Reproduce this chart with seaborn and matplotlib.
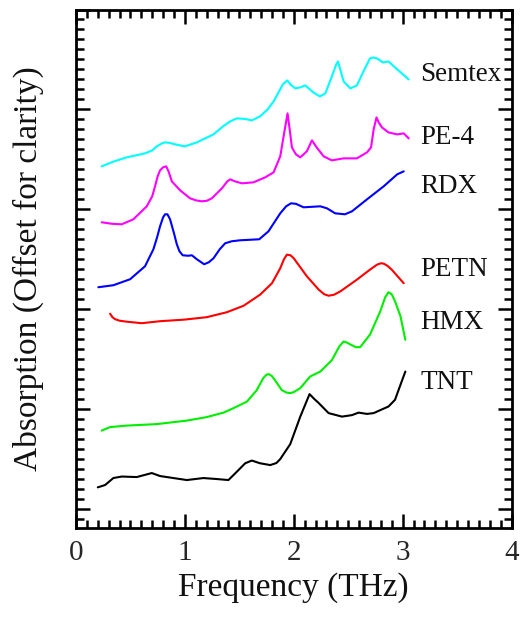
import matplotlib
matplotlib.use("Agg")
import matplotlib.pyplot as plt
from matplotlib.ticker import MultipleLocator, NullFormatter
import numpy as np
import pandas as pd
import seaborn as sns

# THz absorption spectra of explosives, each offset vertically
semtex_x = [0.236, 0.35, 0.466, 0.634, 0.70, 0.742, 0.79, 0.818, 0.86, 0.91, 1.0, 1.11, 1.263, 1.35,
            1.416, 1.478, 1.55, 1.615, 1.69, 1.76, 1.815, 1.87, 1.90, 1.94, 1.97, 2.014, 2.06,
            2.106, 2.18, 2.24, 2.29, 2.35, 2.39, 2.406, 2.43, 2.458, 2.52, 2.58, 2.64, 2.70,
            2.73, 2.765, 2.82, 2.87, 2.93, 3.056]
semtex_y = [3.43, 3.48, 3.52, 3.56, 3.59, 3.63, 3.66, 3.67, 3.665, 3.65, 3.63, 3.67, 3.75, 3.83,
            3.88, 3.91, 3.905, 3.89, 3.93, 4.00, 4.08, 4.19, 4.25, 4.29, 4.25, 4.21, 4.22,
            4.24, 4.17, 4.13, 4.16, 4.33, 4.45, 4.48, 4.39, 4.28, 4.21, 4.24, 4.38, 4.51,
            4.52, 4.51, 4.47, 4.48, 4.42, 4.30]

pe4_x = [0.236, 0.33, 0.42, 0.527, 0.65, 0.70, 0.726, 0.75, 0.772, 0.80, 0.828, 0.85, 0.88, 0.956,
         1.048, 1.10, 1.156, 1.20, 1.248, 1.34, 1.39, 1.416, 1.46, 1.524, 1.63, 1.738, 1.815,
         1.876, 1.913, 1.943, 1.965, 1.983, 2.02, 2.06, 2.12, 2.167, 2.21, 2.275, 2.35, 2.458,
         2.58, 2.673, 2.71, 2.734, 2.76, 2.78, 2.81, 2.87, 2.95, 3.01, 3.056]
pe4_y = [2.87, 2.855, 2.85, 2.90, 3.03, 3.13, 3.23, 3.33, 3.39, 3.42, 3.43, 3.38, 3.28, 3.19,
         3.11, 3.09, 3.08, 3.085, 3.11, 3.21, 3.28, 3.30, 3.28, 3.26, 3.27, 3.32, 3.37,
         3.53, 3.77, 3.96, 3.78, 3.62, 3.55, 3.52, 3.58, 3.69, 3.62, 3.53, 3.49, 3.51,
         3.51, 3.57, 3.62, 3.80, 3.92, 3.87, 3.82, 3.77, 3.75, 3.76, 3.71]

rdx_x = [0.205, 0.343, 0.497, 0.634, 0.711, 0.745, 0.772, 0.80, 0.818, 0.84, 0.864, 0.90, 0.926, 0.95,
         0.98, 1.03, 1.064, 1.11, 1.177, 1.22, 1.263, 1.32, 1.37, 1.43, 1.508, 1.683, 1.768, 1.876,
         1.93, 1.975, 2.02, 2.09, 2.244, 2.305, 2.38, 2.47, 2.535, 2.673, 2.826, 2.95, 3.01]
rdx_y = [2.22, 2.24, 2.30, 2.43, 2.60, 2.72, 2.83, 2.92, 2.95, 2.95, 2.90, 2.76, 2.65, 2.58,
         2.54, 2.535, 2.54, 2.50, 2.45, 2.47, 2.51, 2.60, 2.66, 2.68, 2.69, 2.70, 2.78, 2.96,
         3.03, 3.06, 3.055, 3.02, 3.03, 3.01, 2.96, 2.95, 2.98, 3.10, 3.23, 3.35, 3.38]

petn_x = [0.313, 0.335, 0.359, 0.40, 0.466, 0.604, 0.772, 0.987, 1.20, 1.386, 1.54, 1.69, 1.80,
          1.876, 1.91, 1.937, 1.97, 2.0, 2.06, 2.12, 2.23, 2.28, 2.32, 2.37, 2.43, 2.58, 2.70,
          2.765, 2.80, 2.826, 2.86, 2.90, 3.01]
petn_y = [1.955, 1.92, 1.90, 1.885, 1.875, 1.86, 1.88, 1.895, 1.92, 1.97, 2.035, 2.145, 2.26,
          2.41, 2.50, 2.546, 2.54, 2.51, 2.42, 2.33, 2.195, 2.15, 2.135, 2.145, 2.18, 2.296, 2.396,
          2.446, 2.46, 2.456, 2.435, 2.396, 2.26]

hmx_x = [0.236, 0.313, 0.466, 0.742, 1.018, 1.20, 1.355, 1.447, 1.57, 1.66, 1.72, 1.75, 1.773, 1.80,
         1.83, 1.89, 1.935, 1.968, 2.00, 2.06, 2.15, 2.244, 2.35, 2.42, 2.458, 2.49, 2.526, 2.57,
         2.61, 2.70, 2.795, 2.84, 2.87, 2.90, 2.93, 2.98, 3.025]
hmx_y = [0.785, 0.82, 0.835, 0.85, 0.885, 0.92, 0.965, 1.01, 1.075, 1.19, 1.31, 1.345, 1.35, 1.33,
         1.286, 1.19, 1.165, 1.16, 1.17, 1.21, 1.326, 1.376, 1.49, 1.63, 1.677, 1.665, 1.644, 1.62,
         1.62, 1.745, 1.98, 2.12, 2.17, 2.15, 2.08, 1.93, 1.694]

tnt_x = [0.2, 0.267, 0.343, 0.42, 0.558, 0.696, 0.772, 0.895, 1.018, 1.17, 1.294, 1.40, 1.478,
         1.554, 1.615, 1.69, 1.784, 1.84, 1.876, 1.968, 2.06, 2.145, 2.19, 2.23, 2.32, 2.443,
         2.535, 2.596, 2.673, 2.734, 2.795, 2.87, 2.93, 2.98, 3.025]
tnt_y = [0.217, 0.24, 0.31, 0.325, 0.32, 0.36, 0.33, 0.31, 0.29, 0.31, 0.30, 0.29, 0.374,
         0.458, 0.485, 0.458, 0.44, 0.46, 0.50, 0.65, 0.925, 1.15, 1.10, 1.06, 0.96, 0.925,
         0.94, 0.965, 0.952, 0.96, 0.99, 1.026, 1.093, 1.243, 1.376]

names = ["Semtex", "PE-4", "RDX", "PETN", "HMX", "TNT"]
colors = ["#00FFFF", "#FF00FF", "#0000FF", "#FF0000", "#00EE00", "#000000"]
label_y = [4.35, 3.72, 3.23, 2.40, 1.865, 1.27]

series = [(semtex_x, semtex_y), (pe4_x, pe4_y), (rdx_x, rdx_y),
          (petn_x, petn_y), (hmx_x, hmx_y), (tnt_x, tnt_y)]
df = pd.concat(
    [pd.DataFrame({"freq": xs, "absorb": ys, "sample": n}) for n, (xs, ys) in zip(names, series)],
    ignore_index=True,
)

sns.set_style("ticks")
plt.rcParams["font.family"] = ["Liberation Serif", "DejaVu Serif"]

fig = plt.figure(figsize=(5.27, 6.19), dpi=100)
ax = fig.add_axes([76 / 527, 1 - 528 / 619, (511.5 - 76) / 527, (528 - 9.5) / 619])

sns.lineplot(data=df, x="freq", y="absorb", hue="sample", palette=dict(zip(names, colors)),
             sort=False, estimator=None, linewidth=1.5, legend=False, ax=ax)
for line in ax.get_lines():
    line.set_solid_joinstyle("round")
    line.set_solid_capstyle("round")

for n, ly in zip(names, label_y):
    ax.text(3.16, ly, n, fontsize=19.5, ha="left", va="center", color="#111111")

ax.set_xlim(0, 4)
ax.set_ylim(-0.19, 5.0)
ax.xaxis.set_major_locator(MultipleLocator(1))
ax.xaxis.set_minor_locator(MultipleLocator(0.1))
ax.yaxis.set_major_locator(MultipleLocator(1))
ax.yaxis.set_minor_locator(MultipleLocator(0.1))
ax.yaxis.set_major_formatter(NullFormatter())

ax.tick_params(which="both", direction="in", top=True, right=True, width=1.8, color="black")
ax.tick_params(which="major", length=10, labelsize=21, pad=9)
ax.tick_params(which="minor", length=5.5)
for s in ax.spines.values():
    s.set_linewidth(2.0)
    s.set_color("black")

ax.set_xlabel("Frequency (THz)", fontsize=24, labelpad=4, color="#111111")
ax.set_ylabel("Absorption (Offset for clarity)", fontsize=24, labelpad=14, color="#111111")

fig.savefig("out.png", dpi=100)
